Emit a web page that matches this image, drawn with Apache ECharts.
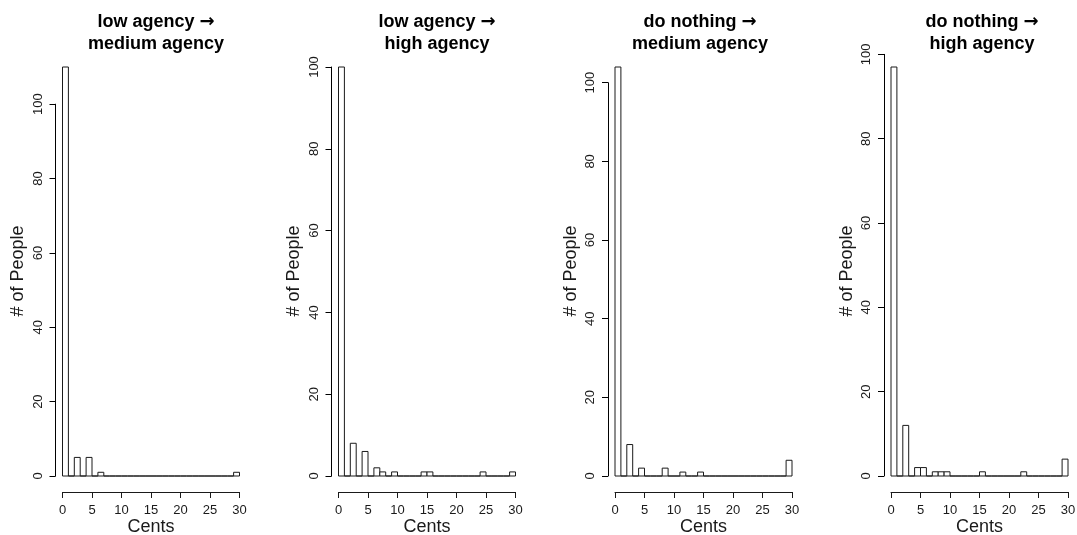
<!DOCTYPE html>
<html>
<head>
<meta charset="utf-8">
<script src="https://cdn.jsdelivr.net/npm/echarts@6/dist/echarts.min.js"></script>
<style>
  html, body { margin: 0; padding: 0; background: #fff; }
  #chart { width: 1077px; height: 535px; }
</style>
</head>
<body>
<div id="chart"></div>
<script>
// Histogram bins: one cent wide, 0 to 30 cents
const binEdges = [0, 1, 2, 3, 4, 5, 6, 7, 8, 9, 10, 11, 12, 13, 14, 15,
                  16, 17, 18, 19, 20, 21, 22, 23, 24, 25, 26, 27, 28, 29, 30];

// Number of people per bin, one array per comparison
const lowToMedium     = [110, 0, 5, 0, 5, 0, 1, 0, 0, 0, 0, 0, 0, 0, 0,
                         0, 0, 0, 0, 0, 0, 0, 0, 0, 0, 0, 0, 0, 0, 1];
const lowToHigh       = [100, 0, 8, 0, 6, 0, 2, 1, 0, 1, 0, 0, 0, 0, 1,
                         1, 0, 0, 0, 0, 0, 0, 0, 0, 1, 0, 0, 0, 0, 1];
const nothingToMedium = [104, 0, 8, 0, 2, 0, 0, 0, 2, 0, 0, 1, 0, 0, 1,
                         0, 0, 0, 0, 0, 0, 0, 0, 0, 0, 0, 0, 0, 0, 4];
const nothingToHigh   = [97, 0, 12, 0, 2, 2, 0, 1, 1, 1, 0, 0, 0, 0, 0,
                         1, 0, 0, 0, 0, 0, 0, 1, 0, 0, 0, 0, 0, 0, 4];

// Panel titles: [from, to]
const panelTitles = [
  ['low agency', 'medium agency'],
  ['low agency', 'high agency'],
  ['do nothing', 'medium agency'],
  ['do nothing', 'high agency']
];
const panelCounts = [lowToMedium, lowToHigh, nothingToMedium, nothingToHigh];

const xAxisName = 'Cents';
const yAxisName = '# of People';
const xTickStep = 5;
const yTickStep = 20;
const yAxisTop = 100;

// Layout (pixels)
const FONT = '"Liberation Sans", Arial, Helvetica, sans-serif';
const INK = '#1a1a1a';
const plotLeft = [62.5, 338.5, 615, 891];   // where 0 cents sits
const titleCenter = [156, 437, 700, 982];
const plotWidth = 177;                        // 0..30 cents
const baseY = 476;                            // zero count
const peakY = 67;                             // top of the tallest bar
const xAxisDrop = 16;                         // x axis line below the bars
const yAxisGap = 7;                           // y axis line left of 0 cents

const grids = [], xAxes = [], yAxes = [], series = [], titles = [], graphics = [];

panelCounts.forEach(function (counts, i) {
  const maxCount = Math.max.apply(null, counts);
  const pxPerUnit = (baseY - peakY) / maxCount;
  const gridTop = baseY - pxPerUnit * yAxisTop;

  grids.push({
    left: plotLeft[i],
    width: plotWidth,
    top: gridTop,
    height: baseY - gridTop,
    containLabel: false,
    outerBoundsMode: 'none'
  });

  xAxes.push({
    gridIndex: i,
    type: 'value',
    min: 0, max: 30, interval: xTickStep,
    offset: xAxisDrop,
    name: xAxisName,
    nameLocation: 'middle',
    nameGap: 26,
    nameMoveOverlap: false,
    nameTextStyle: { fontFamily: FONT, fontSize: 18, color: INK },
    axisLine: { show: true, onZero: false, lineStyle: { color: INK, width: 1 } },
    axisTick: { show: true, length: 6, lineStyle: { color: INK, width: 1 } },
    axisLabel: { fontFamily: FONT, fontSize: 13, color: INK, margin: 12 },
    splitLine: { show: false }
  });

  yAxes.push({
    gridIndex: i,
    type: 'value',
    position: 'left',
    min: 0, max: yAxisTop, interval: yTickStep,
    offset: yAxisGap,
    axisLine: { show: true, onZero: false, lineStyle: { color: '#000', width: 1 } },
    axisTick: { show: true, length: 6, lineStyle: { color: '#000', width: 1 } },
    axisLabel: { fontFamily: FONT, fontSize: 13, color: INK, rotate: 90, margin: 11 },
    splitLine: { show: false }
  });

  const binData = counts.map(function (c, k) {
    return [binEdges[k], binEdges[k + 1], c];
  });

  series.push({
    type: 'custom',
    xAxisIndex: i,
    yAxisIndex: i,
    clip: false,
    data: binData,
    renderItem: function (params, api) {
      const topLeft = api.coord([api.value(0), api.value(2)]);
      const bottomRight = api.coord([api.value(1), 0]);
      return {
        type: 'rect',
        shape: {
          x: topLeft[0],
          y: topLeft[1],
          width: bottomRight[0] - topLeft[0],
          height: bottomRight[1] - topLeft[1]
        },
        style: { fill: '#ffffff', stroke: INK, lineWidth: 1 }
      };
    }
  });

  titles.push({
    text: '{t|' + panelTitles[i][0] + ' }{a|\u2192}\n{t|' + panelTitles[i][1] + '}',
    left: titleCenter[i],
    top: 11,
    padding: 0,
    textAlign: 'center',
    textStyle: {
      rich: {
        t: { fontFamily: FONT, fontSize: 18, fontWeight: 'bold', color: '#000', lineHeight: 22 },
        a: { fontFamily: '"DejaVu Sans"', fontSize: 18, fontWeight: 'bold', color: '#000', lineHeight: 22 }
      }
    }
  });

  graphics.push({
    type: 'text',
    x: plotLeft[i] - yAxisGap - 37,
    y: 271,
    rotation: Math.PI / 2,
    style: {
      text: yAxisName,
      fontFamily: FONT, fontSize: 18, fill: INK,
      align: 'center', verticalAlign: 'middle'
    }
  });
});

const chart = echarts.init(document.getElementById('chart'), null, { renderer: 'canvas' });
chart.setOption({
  animation: false,
  backgroundColor: '#ffffff',
  title: titles,
  grid: grids,
  xAxis: xAxes,
  yAxis: yAxes,
  series: series,
  graphic: graphics
});
</script>
</body>
</html>
